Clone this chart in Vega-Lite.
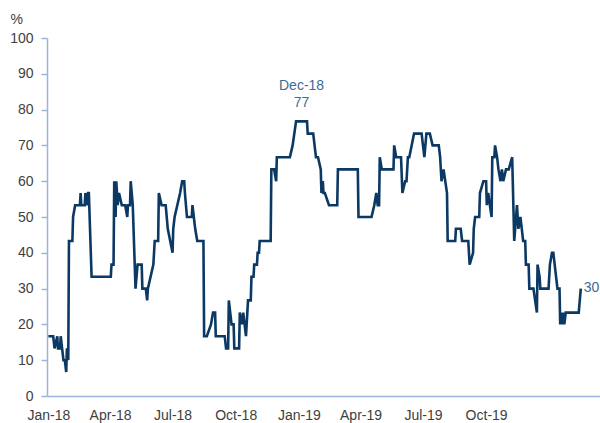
{
  "$schema": "https://vega.github.io/schema/vega-lite/v6.json",
  "width": 553,
  "height": 358,
  "autosize": {"type": "none"},
  "padding": {"left": 47, "top": 38, "right": 0, "bottom": 27},
  "background": "white",
  "config": {
    "view": {"stroke": null},
    "font": "Liberation Sans",
    "text": {"font": "Liberation Sans"},
    "axis": {
      "labelFont": "Liberation Sans",
      "titleFont": "Liberation Sans",
      "labelFontSize": 14,
      "labelColor": "#404040",
      "titleColor": "#404040",
      "domainColor": "#9BB5DA",
      "domainWidth": 1.5,
      "tickColor": "#9BB5DA",
      "tickWidth": 1.5,
      "grid": false,
      "labelOverlap": false
    }
  },
  "datasets": {
    "series": [
      {"date": "2018-01-01", "value": 16.7},
      {"date": "2018-01-08", "value": 16.7},
      {"date": "2018-01-10", "value": 13.3},
      {"date": "2018-01-14", "value": 16.7},
      {"date": "2018-01-15", "value": 13.3},
      {"date": "2018-01-18", "value": 13.3},
      {"date": "2018-01-19", "value": 16.7},
      {"date": "2018-01-21", "value": 13.3},
      {"date": "2018-01-23", "value": 10},
      {"date": "2018-01-25", "value": 10},
      {"date": "2018-01-27", "value": 6.7},
      {"date": "2018-01-28", "value": 13.3},
      {"date": "2018-01-30", "value": 10},
      {"date": "2018-01-31", "value": 43.3},
      {"date": "2018-02-05", "value": 43.3},
      {"date": "2018-02-06", "value": 50},
      {"date": "2018-02-09", "value": 53.3},
      {"date": "2018-02-16", "value": 53.3},
      {"date": "2018-02-17", "value": 56.7},
      {"date": "2018-02-18", "value": 53.3},
      {"date": "2018-02-23", "value": 53.3},
      {"date": "2018-02-24", "value": 56.7},
      {"date": "2018-02-27", "value": 53.3},
      {"date": "2018-02-28", "value": 56.7},
      {"date": "2018-03-01", "value": 56.7},
      {"date": "2018-03-05", "value": 33.3},
      {"date": "2018-04-02", "value": 33.3},
      {"date": "2018-04-03", "value": 36.7},
      {"date": "2018-04-06", "value": 36.7},
      {"date": "2018-04-07", "value": 60},
      {"date": "2018-04-09", "value": 50},
      {"date": "2018-04-10", "value": 60},
      {"date": "2018-04-12", "value": 53.3},
      {"date": "2018-04-14", "value": 56.7},
      {"date": "2018-04-18", "value": 53.3},
      {"date": "2018-04-23", "value": 53.3},
      {"date": "2018-04-26", "value": 50},
      {"date": "2018-04-27", "value": 53.3},
      {"date": "2018-04-30", "value": 53.3},
      {"date": "2018-05-01", "value": 60},
      {"date": "2018-05-04", "value": 53.3},
      {"date": "2018-05-08", "value": 30},
      {"date": "2018-05-11", "value": 36.7},
      {"date": "2018-05-17", "value": 36.7},
      {"date": "2018-05-18", "value": 30},
      {"date": "2018-05-23", "value": 30},
      {"date": "2018-05-25", "value": 26.7},
      {"date": "2018-05-26", "value": 30},
      {"date": "2018-06-03", "value": 36.7},
      {"date": "2018-06-05", "value": 43.3},
      {"date": "2018-06-10", "value": 43.3},
      {"date": "2018-06-11", "value": 56.7},
      {"date": "2018-06-15", "value": 53.3},
      {"date": "2018-06-21", "value": 53.3},
      {"date": "2018-06-24", "value": 46.7},
      {"date": "2018-07-01", "value": 40},
      {"date": "2018-07-02", "value": 46.7},
      {"date": "2018-07-04", "value": 50},
      {"date": "2018-07-12", "value": 56.7},
      {"date": "2018-07-15", "value": 60},
      {"date": "2018-07-18", "value": 60},
      {"date": "2018-07-19", "value": 56.7},
      {"date": "2018-07-22", "value": 50},
      {"date": "2018-07-29", "value": 50},
      {"date": "2018-07-30", "value": 53.3},
      {"date": "2018-08-01", "value": 50},
      {"date": "2018-08-03", "value": 46.7},
      {"date": "2018-08-06", "value": 43.3},
      {"date": "2018-08-15", "value": 43.3},
      {"date": "2018-08-16", "value": 16.7},
      {"date": "2018-08-20", "value": 16.7},
      {"date": "2018-08-26", "value": 20},
      {"date": "2018-08-29", "value": 23.3},
      {"date": "2018-09-01", "value": 23.3},
      {"date": "2018-09-02", "value": 16.7},
      {"date": "2018-09-15", "value": 16.7},
      {"date": "2018-09-17", "value": 13.3},
      {"date": "2018-09-20", "value": 13.3},
      {"date": "2018-09-21", "value": 26.7},
      {"date": "2018-09-25", "value": 20},
      {"date": "2018-09-28", "value": 20},
      {"date": "2018-09-29", "value": 13.3},
      {"date": "2018-10-06", "value": 13.3},
      {"date": "2018-10-07", "value": 23.3},
      {"date": "2018-10-10", "value": 20},
      {"date": "2018-10-12", "value": 23.3},
      {"date": "2018-10-16", "value": 16.7},
      {"date": "2018-10-19", "value": 26.7},
      {"date": "2018-10-23", "value": 26.7},
      {"date": "2018-10-24", "value": 33.3},
      {"date": "2018-10-27", "value": 33.3},
      {"date": "2018-10-28", "value": 36.7},
      {"date": "2018-11-01", "value": 36.7},
      {"date": "2018-11-02", "value": 40},
      {"date": "2018-11-04", "value": 40},
      {"date": "2018-11-05", "value": 43.3},
      {"date": "2018-11-21", "value": 43.3},
      {"date": "2018-11-22", "value": 63.3},
      {"date": "2018-11-26", "value": 63.3},
      {"date": "2018-11-29", "value": 60},
      {"date": "2018-11-30", "value": 66.7},
      {"date": "2018-12-19", "value": 66.7},
      {"date": "2018-12-23", "value": 70},
      {"date": "2018-12-28", "value": 76.7},
      {"date": "2019-01-13", "value": 76.7},
      {"date": "2019-01-14", "value": 73.3},
      {"date": "2019-01-22", "value": 73.3},
      {"date": "2019-01-26", "value": 66.7},
      {"date": "2019-01-29", "value": 66.7},
      {"date": "2019-02-02", "value": 63.3},
      {"date": "2019-02-03", "value": 56.7},
      {"date": "2019-02-05", "value": 60},
      {"date": "2019-02-06", "value": 56.7},
      {"date": "2019-02-08", "value": 56.7},
      {"date": "2019-02-14", "value": 53.3},
      {"date": "2019-02-26", "value": 53.3},
      {"date": "2019-02-27", "value": 63.3},
      {"date": "2019-03-28", "value": 63.3},
      {"date": "2019-03-29", "value": 50},
      {"date": "2019-04-17", "value": 50},
      {"date": "2019-04-21", "value": 53.3},
      {"date": "2019-04-24", "value": 56.7},
      {"date": "2019-04-26", "value": 53.3},
      {"date": "2019-04-28", "value": 53.3},
      {"date": "2019-04-29", "value": 66.7},
      {"date": "2019-05-02", "value": 63.3},
      {"date": "2019-05-19", "value": 63.3},
      {"date": "2019-05-20", "value": 70},
      {"date": "2019-05-23", "value": 66.7},
      {"date": "2019-05-30", "value": 66.7},
      {"date": "2019-06-01", "value": 56.7},
      {"date": "2019-06-05", "value": 60},
      {"date": "2019-06-07", "value": 60},
      {"date": "2019-06-09", "value": 66.7},
      {"date": "2019-06-11", "value": 66.7},
      {"date": "2019-06-18", "value": 73.3},
      {"date": "2019-06-29", "value": 73.3},
      {"date": "2019-07-03", "value": 66.7},
      {"date": "2019-07-06", "value": 73.3},
      {"date": "2019-07-11", "value": 73.3},
      {"date": "2019-07-15", "value": 70},
      {"date": "2019-07-24", "value": 70},
      {"date": "2019-07-26", "value": 66.7},
      {"date": "2019-07-28", "value": 60},
      {"date": "2019-07-31", "value": 63.3},
      {"date": "2019-08-05", "value": 56.7},
      {"date": "2019-08-06", "value": 43.3},
      {"date": "2019-08-17", "value": 43.3},
      {"date": "2019-08-18", "value": 46.7},
      {"date": "2019-08-25", "value": 46.7},
      {"date": "2019-08-27", "value": 43.3},
      {"date": "2019-09-05", "value": 43.3},
      {"date": "2019-09-07", "value": 36.7},
      {"date": "2019-09-12", "value": 40},
      {"date": "2019-09-13", "value": 46.7},
      {"date": "2019-09-15", "value": 50},
      {"date": "2019-09-21", "value": 50},
      {"date": "2019-09-22", "value": 56.7},
      {"date": "2019-09-27", "value": 60},
      {"date": "2019-10-01", "value": 60},
      {"date": "2019-10-02", "value": 53.3},
      {"date": "2019-10-04", "value": 56.7},
      {"date": "2019-10-09", "value": 50},
      {"date": "2019-10-10", "value": 66.7},
      {"date": "2019-10-13", "value": 66.7},
      {"date": "2019-10-14", "value": 70},
      {"date": "2019-10-17", "value": 66.7},
      {"date": "2019-10-19", "value": 63.3},
      {"date": "2019-10-22", "value": 60},
      {"date": "2019-10-24", "value": 63.3},
      {"date": "2019-10-26", "value": 60},
      {"date": "2019-10-30", "value": 63.3},
      {"date": "2019-11-03", "value": 63.3},
      {"date": "2019-11-08", "value": 66.7},
      {"date": "2019-11-11", "value": 43.3},
      {"date": "2019-11-15", "value": 53.3},
      {"date": "2019-11-17", "value": 46.7},
      {"date": "2019-11-20", "value": 50},
      {"date": "2019-11-22", "value": 46.7},
      {"date": "2019-11-24", "value": 43.3},
      {"date": "2019-11-27", "value": 43.3},
      {"date": "2019-11-28", "value": 36.7},
      {"date": "2019-12-02", "value": 36.7},
      {"date": "2019-12-03", "value": 30},
      {"date": "2019-12-09", "value": 30},
      {"date": "2019-12-14", "value": 23.3},
      {"date": "2019-12-15", "value": 36.7},
      {"date": "2019-12-18", "value": 33.3},
      {"date": "2019-12-19", "value": 30},
      {"date": "2019-12-31", "value": 30},
      {"date": "2020-01-02", "value": 36.7},
      {"date": "2020-01-05", "value": 40},
      {"date": "2020-01-07", "value": 40},
      {"date": "2020-01-11", "value": 33.3},
      {"date": "2020-01-13", "value": 30},
      {"date": "2020-01-16", "value": 30},
      {"date": "2020-01-17", "value": 20},
      {"date": "2020-01-18", "value": 23.3},
      {"date": "2020-01-20", "value": 20},
      {"date": "2020-01-21", "value": 23.3},
      {"date": "2020-01-23", "value": 20},
      {"date": "2020-01-25", "value": 23.3},
      {"date": "2020-02-13", "value": 23.3},
      {"date": "2020-02-16", "value": 30}
    ],
    "labels": [
      {"date": "2019-01-05", "value": 76.7, "line1": "Dec-18", "line2": "77"}
    ],
    "endlabel": [
      {"date": "2020-02-16", "value": 30, "label": "30"}
    ]
  },
  "encoding": {
    "x": {
      "field": "date",
      "type": "temporal",
      "scale": {
        "type": "utc",
        "domain": [
          {"year": 2017, "month": 12, "date": 30, "utc": true},
          {"year": 2020, "month": 3, "date": 15, "utc": true}
        ]
      },
      "axis": {
        "title": null,
        "labelExpr": "utcFormat(datum.value, '%b-%y')",
        "values": [
          {"year": 2018, "month": 1, "date": 1, "utc": true},
          {"year": 2018, "month": 4, "date": 1, "utc": true},
          {"year": 2018, "month": 7, "date": 1, "utc": true},
          {"year": 2018, "month": 10, "date": 1, "utc": true},
          {"year": 2019, "month": 1, "date": 1, "utc": true},
          {"year": 2019, "month": 4, "date": 1, "utc": true},
          {"year": 2019, "month": 7, "date": 1, "utc": true},
          {"year": 2019, "month": 10, "date": 1, "utc": true}
        ],
        "ticks": false,
        "labelPadding": 12,
        "labelFlush": false,
        "labelOverlap": false
      }
    },
    "y": {
      "field": "value",
      "type": "quantitative",
      "scale": {"domain": [0, 100], "nice": false, "zero": true},
      "axis": {
        "values": [0, 10, 20, 30, 40, 50, 60, 70, 80, 90, 100],
        "tickCount": 11,
        "labelOverlap": false,
        "tickSize": 6,
        "labelPadding": 8,
        "title": "%",
        "titleAngle": 0,
        "titleAlign": "left",
        "titleBaseline": "alphabetic",
        "titleFontWeight": "normal",
        "titleFontSize": 14,
        "titleX": -37,
        "titleY": -15
      }
    }
  },
  "layer": [
    {
      "data": {"name": "series"},
      "mark": {"type": "line", "color": "#0B3963", "strokeWidth": 2.6, "strokeJoin": "miter", "clip": true}
    },
    {
      "data": {"name": "labels"},
      "mark": {"type": "text", "font": "Liberation Sans", "color": "#3E6A98", "fontSize": 14, "align": "center", "baseline": "alphabetic", "dy": -14},
      "encoding": {"text": {"field": "line2"}}
    },
    {
      "data": {"name": "labels"},
      "mark": {"type": "text", "font": "Liberation Sans", "color": "#3E6A98", "fontSize": 14, "align": "center", "baseline": "alphabetic", "dy": -31},
      "encoding": {"text": {"field": "line1"}}
    },
    {
      "data": {"name": "endlabel"},
      "mark": {"type": "text", "font": "Liberation Sans", "color": "#3E6A98", "fontSize": 14, "align": "left", "baseline": "middle", "dx": 3, "dy": -1},
      "encoding": {"text": {"field": "label"}}
    }
  ]
}
